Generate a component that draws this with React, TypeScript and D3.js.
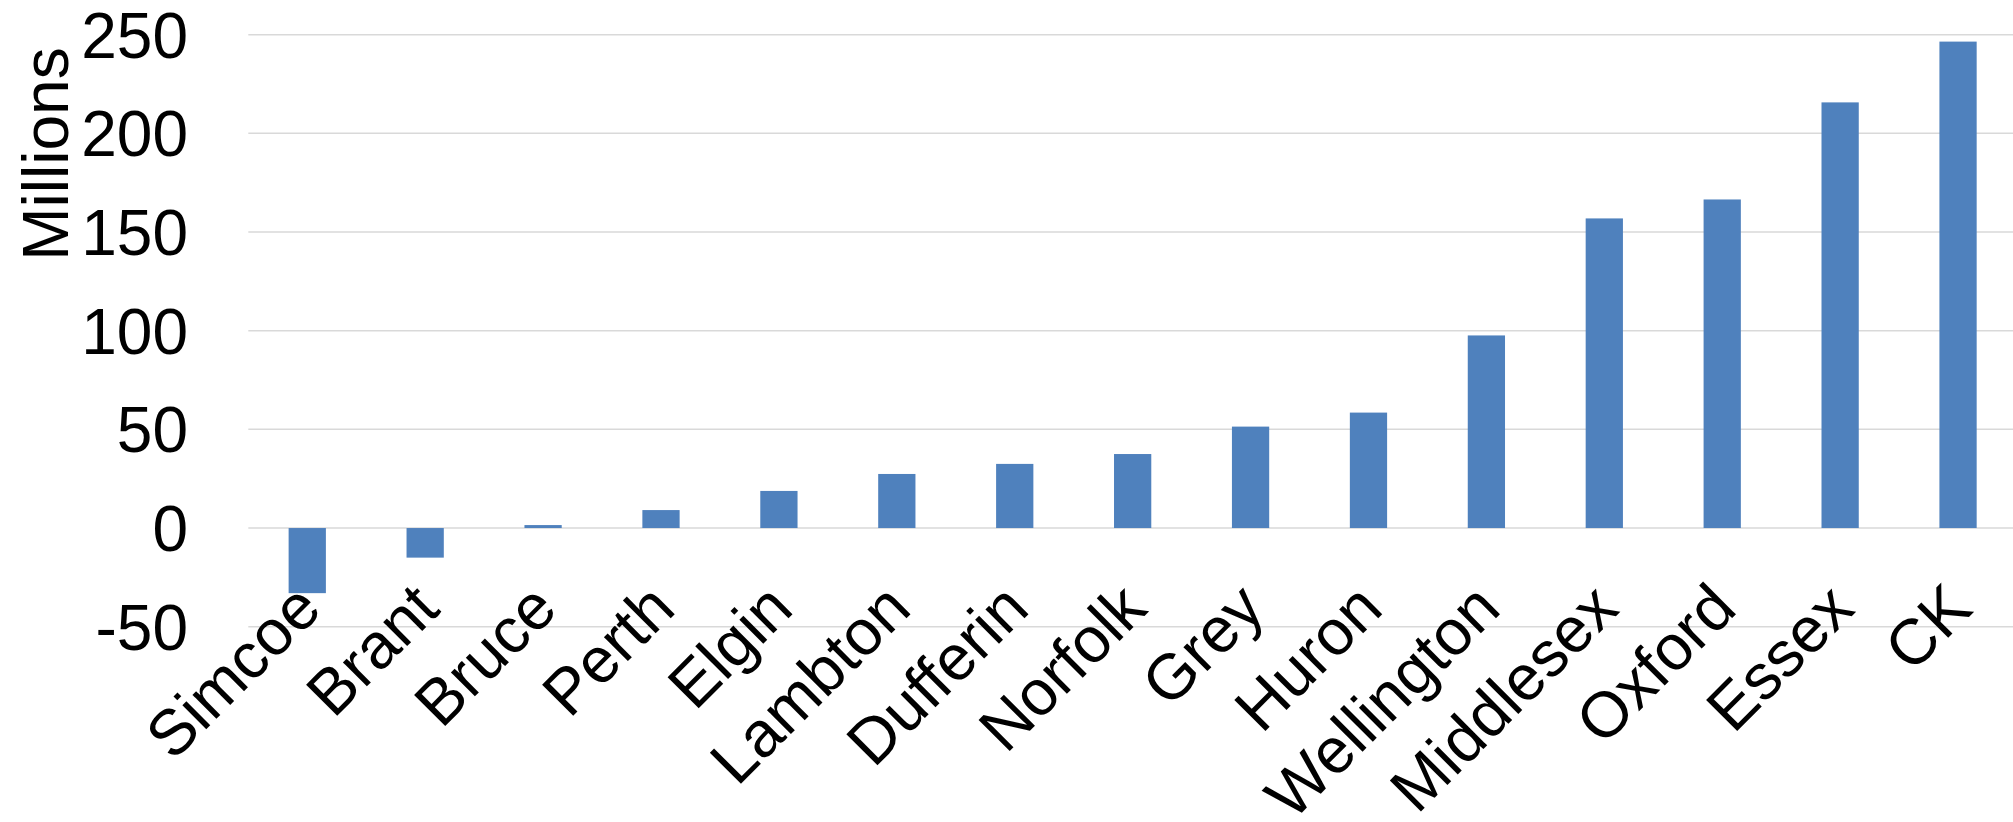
import { useEffect, useRef } from "react";
import * as d3 from "d3";

const categories = [
  "Simcoe",
  "Brant",
  "Bruce",
  "Perth",
  "Elgin",
  "Lambton",
  "Dufferin",
  "Norfolk",
  "Grey",
  "Huron",
  "Wellington",
  "Middlesex",
  "Oxford",
  "Essex",
  "CK",
];
const values = [-33, -15, 1.5, 9.1, 18.8, 27.4, 32.5, 37.5, 51.4, 58.5, 97.6, 156.9, 166.5, 215.7, 246.5];
const yTicks = [-50, 0, 50, 100, 150, 200, 250];
const yTitle = "Millions";

export default function App() {
  const ref = useRef<SVGSVGElement>(null);

  useEffect(() => {
    if (!ref.current) return;
    const width = 2013;
    const height = 822;
    const font = "'Liberation Sans', Arial, sans-serif";

    const svg = d3.select(ref.current);
    svg.selectAll("*").remove();
    svg.attr("width", width).attr("height", height);

    const x = d3
      .scaleBand<string>()
      .domain(categories)
      .range([248.3, 2017])
      .paddingInner(0.684)
      .paddingOuter(0.342);
    const y = d3.scaleLinear().domain([-50, 250]).range([626.7, 34.7]);

    // gridlines
    svg
      .append("g")
      .selectAll("line")
      .data(yTicks)
      .enter()
      .append("line")
      .attr("x1", 248.3)
      .attr("x2", width)
      .attr("y1", (d) => y(d))
      .attr("y2", (d) => y(d))
      .attr("stroke", "#d9d9d9")
      .attr("stroke-width", 1.5);

    // bars
    const data = categories.map((c, i) => ({ c, v: values[i] }));
    svg
      .append("g")
      .selectAll("rect")
      .data(data)
      .enter()
      .append("rect")
      .attr("x", (d) => x(d.c) || 0)
      .attr("width", x.bandwidth())
      .attr("y", (d) => y(Math.max(0, d.v)))
      .attr("height", (d) => Math.abs(y(d.v) - y(0)))
      .attr("fill", "#4f81bd");

    // y tick labels
    svg
      .append("g")
      .selectAll("text")
      .data(yTicks)
      .enter()
      .append("text")
      .attr("x", 188)
      .attr("y", (d) => y(d))
      .attr("dy", "0.36em")
      .attr("text-anchor", "end")
      .attr("font-family", font)
      .attr("font-size", 64)
      .attr("fill", "#000")
      .text((d) => String(d));

    // category labels, rotated
    svg
      .append("g")
      .selectAll("text")
      .data(categories)
      .enter()
      .append("text")
      .attr("transform", (d) => {
        const cx = (x(d) || 0) + x.bandwidth() / 2 + 16.6;
        const cy = y(0) + 83.4;
        return `translate(${cx},${cy}) rotate(-45)`;
      })
      .attr("text-anchor", "end")
      .attr("font-family", font)
      .attr("font-size", 64)
      .attr("fill", "#000")
      .text((d) => d);

    // axis title
    svg
      .append("text")
      .attr("transform", "translate(68,154) rotate(-90)")
      .attr("text-anchor", "middle")
      .attr("font-family", font)
      .attr("font-size", 64)
      .attr("fill", "#000")
      .text(yTitle);
  }, []);

  return (
    <svg
      ref={ref}
      style={{ position: "absolute", left: 0, top: 0, display: "block", background: "#fff" }}
    />
  );
}
